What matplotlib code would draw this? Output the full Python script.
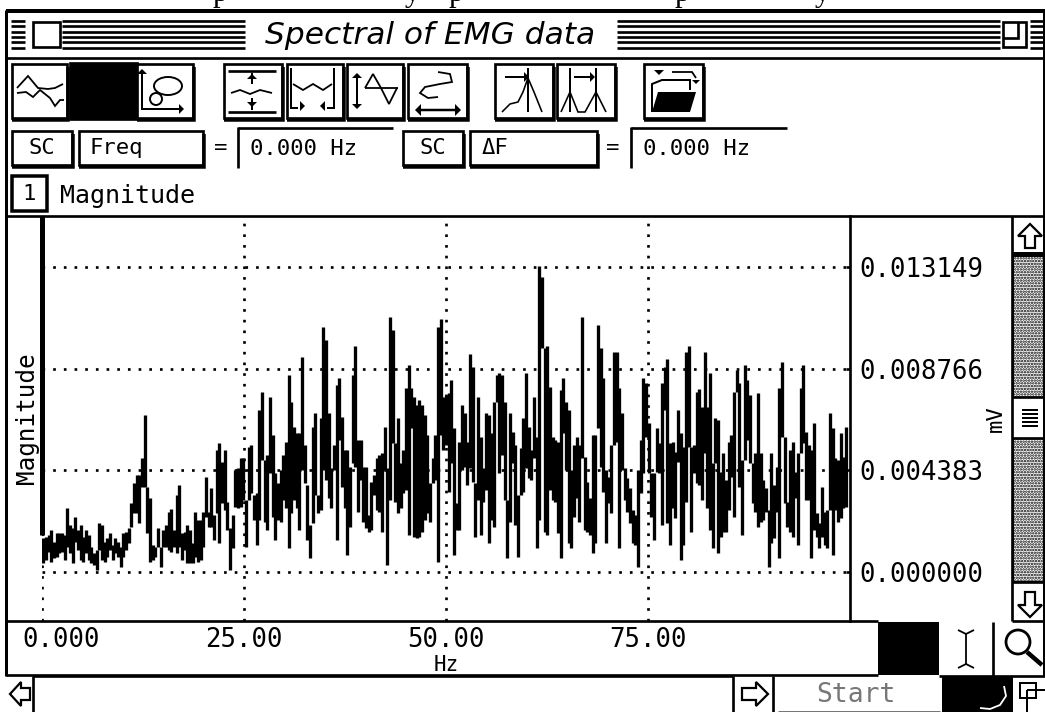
import matplotlib
matplotlib.use("Agg")
import matplotlib.pyplot as plt
import numpy as np
from matplotlib.patches import Rectangle, Polygon, Ellipse, Circle
from matplotlib.transforms import ScaledTranslation

# magnitude per screen column, in microvolts
band1_top = [1.45,1.52,1.59,1.81,1.31,1.67,1.67,1.67,1.59,2.74,2.03,1.88,2.39,1.81,2.03,1.52,1.81,1.59,1.09,0.80,
             0.95,2.13,2.03,1.31,1.45,1.67,1.16,1.45,1.31,1.09,1.67,1.74,1.88,2.96,3.82,4.18,4.18,4.90,6.77,3.68,
             3.18,1.16,1.09,1.88,1.09,1.81,2.03,2.60,2.70,1.81,3.32,3.75,1.67,1.74,2.03,1.81,1.24,2.60,2.24,2.24,
             2.60,4.11,2.60,3.61,2.46,5.26,5.55,4.76,5.26,3.03,1.88,2.46,4.40,4.47,4.90,4.90,3.10,5.40]
band1_bot = [0.37,0.52,0.88,0.45,0.59,0.66,0.80,0.88,0.52,1.09,0.80,0.37,1.31,0.95,0.52,0.45,0.80,0.52,0.37,0.30,
             0.09,0.95,0.52,0.45,0.66,0.95,0.52,0.80,0.66,0.23,0.66,0.95,1.24,1.95,2.53,2.53,2.10,3.68,3.68,1.67,
             0.45,0.52,0.66,1.09,0.23,1.09,1.09,0.95,0.88,1.09,0.80,1.09,0.52,0.95,0.37,0.37,0.37,0.66,0.45,0.52,
             1.09,2.39,1.95,1.95,1.38,2.53,1.24,2.96,2.67,1.81,0.09,1.02,2.82,2.74,2.82,3.10,1.09,3.10]

band2_top = [5.47,3.32,3.39,6.98,7.77,4.83,5.04,7.56,5.91,4.25,3.82,4.40,5.04,5.62,8.49,7.34,6.26,5.98,5.98,9.28,
             5.47,3.75,2.03,6.26,6.84,3.32,6.62,10.57,10.00,6.84,4.47,5.47,8.06,8.35,6.70,5.26,5.26,4.54,8.49,9.74,
             5.69,5.69,4.54,4.54,2.46,3.89,4.18,4.90,5.04,5.11,6.26,4.47,11.00,10.43,5.55,6.62,4.68,5.26,7.92,8.92,
             7.92,7.56,7.20,7.41,7.20,6.77,5.91,3.82,4.90,5.91,10.55,10.90,7.56,7.63,7.70,8.28]
band2_bot = [3.39,2.24,1.16,2.24,4.83,2.17,1.81,4.25,2.39,1.38,2.24,2.17,3.10,2.74,1.02,2.53,3.10,2.74,1.81,4.40,
             3.82,1.38,0.59,2.10,3.32,2.53,2.67,4.40,3.97,3.18,2.74,4.40,1.38,5.69,3.68,2.74,0.73,1.95,4.68,4.54,
             2.60,3.97,2.17,1.88,1.74,1.81,3.32,2.67,2.60,1.74,4.40,0.30,3.10,5.55,3.03,2.53,2.74,3.39,3.53,1.59,
             6.19,1.52,1.45,1.52,1.74,2.24,2.53,2.17,3.82,3.97,0.45,5.91,5.26,5.47,3.46,4.68]

band3_top = [6.19,2.96,5.62,7.20,6.87,5.62,9.40,8.85,3.82,7.56,5.83,4.47,6.84,6.77,5.98,7.34,8.49,8.56,8.49,7.34,
             3.10,6.87,6.05,5.47,3.32,5.33,6.62,8.56,6.26,5.26,7.56,5.83,13.19,12.73,9.64,9.74,7.99,5.83,5.69,5.62,
             7.84,8.35,7.34,6.98,4.40,5.47,5.83,5.47,11.00,4.97,3.89,3.18,5.91,5.91,10.65,9.64,8.35,4.40,4.11,5.47,
             9.50,9.50,7.92,6.84,4.47,4.04,3.61,2.67,2.46,4.40,5.69,8.35,8.13,6.41,4.25,4.25,6.19,5.55]
band3_bot = [0.73,1.81,1.81,4.40,4.54,3.75,4.47,3.89,1.52,3.10,1.59,3.03,3.53,1.24,2.24,1.95,7.34,4.25,5.04,3.10,
             0.59,2.17,4.68,2.03,0.66,3.32,3.46,4.47,4.04,3.97,4.90,1.02,2.24,9.64,1.74,1.59,3.53,3.10,3.03,1.67,
             0.59,5.98,4.40,1.24,1.02,2.39,3.18,2.17,4.90,1.81,1.74,1.59,0.80,1.24,6.19,4.54,3.46,1.24,2.96,2.53,
             5.47,5.62,1.02,4.40,3.10,2.60,2.10,1.24,1.16,0.23,3.39,4.25,5.83,4.25,2.39,1.38,4.32,4.25]

band4_top = [8.13,8.85,9.17,5.55,5.62,5.19,6.98,5.98,5.40,9.50,9.74,5.40,5.47,7.77,7.87,7.13,9.50,7.13,8.59,4.68,
             6.62,6.55,4.32,5.11,3.97,5.62,5.91,7.77,8.71,8.13,4.83,8.92,8.28,7.63,4.68,5.11,7.70,5.11,3.97,3.61,
             2.67,5.11,3.75,4.54,7.92,9.07,5.83,3.03,5.26,5.62,4.32,5.11,7.92,8.92,6.05,5.47,5.26,6.41,2.53,2.10,
             3.68,2.60,2.67,6.84,6.19,4.90,4.83,5.98,4.97,6.26]
band4_bot = [2.03,6.98,2.10,1.16,2.74,2.31,4.76,0.52,1.16,3.03,5.40,1.74,4.25,3.82,3.75,3.10,5.11,2.74,1.81,1.02,
             4.68,0.80,1.52,1.74,1.74,2.67,4.11,2.39,7.77,3.68,1.59,4.83,5.69,4.68,2.96,2.60,1.95,2.17,2.24,2.60,
             0.23,1.24,1.45,2.60,0.59,5.83,2.96,1.95,1.74,1.52,3.18,1.16,5.11,5.55,3.10,3.10,0.59,1.81,1.52,1.02,
             1.52,1.16,1.02,2.67,0.73,2.67,2.17,2.31,2.74,2.82]

y_ticks = [0.000000, 0.004383, 0.008766, 0.013149]
y_tick_labels = ['0.000000', '0.004383', '0.008766', '0.013149']
x_ticks = [0, 25, 50, 75]
x_tick_labels = ['0.000', '25.00', '50.00', '75.00']

mag_top = np.array(band1_top + band2_top + band3_top + band4_top) / 1000
mag_bot = np.array(band1_bot + band2_bot + band3_bot + band4_bot) / 1000
freq = 0.165 + 0.33 * np.arange(len(mag_top))

W, H = 1045, 712
MONO = 'DejaVu Sans Mono'
PX = 0.72  # points per pixel at dpi 100

fig = plt.figure(figsize=(W / 100, H / 100), dpi=100)
ui = fig.add_axes([0, 0, 1, 1])
ui.set_xlim(0, W)
ui.set_ylim(H, 0)
ui.axis('off')


def line(xs, ys, lw=2.67, color='k'):
    ui.plot(xs, ys, color=color, lw=lw * PX, solid_capstyle='butt', solid_joinstyle='miter')


def rect(x0, y0, x1, y1, fc='white', ec='k', lw=2.67, **kw):
    ui.add_patch(Rectangle((x0, y0), x1 - x0, y1 - y0, fc=fc, ec=ec, lw=lw * PX, **kw))


def button(x0, y0, x1, y1, fc='white'):
    rect(x0, y0, x1, y1, fc=fc)
    line([x0, x1 + 1, x1 + 1], [y1 + 1.5, y1 + 1.5, y0 + 3], lw=3.5)


def arrow_up(cx, cy, s=6):
    ui.add_patch(Polygon([(cx, cy - s), (cx + s, cy), (cx - s, cy)], fc='k', ec='k', lw=0))


def arrow_down(cx, cy, s=6):
    ui.add_patch(Polygon([(cx, cy + s), (cx + s, cy), (cx - s, cy)], fc='k', ec='k', lw=0))


def arrow_left(cx, cy, s=6):
    ui.add_patch(Polygon([(cx - s, cy), (cx, cy - s), (cx, cy + s)], fc='k', ec='k', lw=0))


def arrow_right(cx, cy, s=6):
    ui.add_patch(Polygon([(cx + s, cy), (cx, cy - s), (cx, cy + s)], fc='k', ec='k', lw=0))


def label(x, y, s, size=16, **kw):
    ui.text(x, y, s, family=MONO, fontsize=size, va='center', ha=kw.pop('ha', 'left'), **kw)


# cut-off caption above the window, only the descenders show
for gx, ch in [(213, 'p'), (405, 'y'), (449, 'p'), (675, 'p'), (815, 'y')]:
    ui.text(gx, 1.5, ch, family='Liberation Serif', fontsize=22, va='baseline', ha='left')

# window frame
line([6, W], [11, 11], lw=4)
line([6, 6], [10, 676], lw=3)
line([W - 1, W - 1], [10, 676], lw=2)
line([6, W], [58, 58], lw=2.67)
line([6, W], [216, 216], lw=2.67)
line([6, 878], [621, 621], lw=2.67)
line([6, 878], [675, 675], lw=2.67)

# title bar stripes
for sy in np.arange(21, 49, 5.33):
    line([11, 25], [sy, sy])
    line([62, 245], [sy, sy])
    line([617, 1000], [sy, sy])
    line([1030, 1044], [sy, sy])
rect(33, 22, 60, 47)
rect(1003, 22, 1026, 47)
line([1003, 1018, 1018], [38, 38, 22])
ui.text(430, 36, 'Spectral of EMG data', fontsize=22.5, style='oblique', ha='center', va='center')

# toolbar buttons
button(12, 64, 67, 118)
rect(70, 63, 137, 119, fc='k')
button(137, 64, 193, 118)
button(224, 64, 282, 118)
button(287, 64, 343, 118)
button(347, 64, 403, 118)
button(408, 64, 467, 118)
button(495, 64, 553, 118)
button(557, 64, 615, 118)
button(644, 64, 703, 118)

# trace icon
line([17, 28, 38, 48, 55, 63], [88, 76, 88, 89, 88, 84], lw=1.8)
line([17, 26, 33, 40, 50, 55, 60, 64], [93, 92, 97, 90, 98, 106, 100, 100], lw=1.8)
# xy icon
line([142, 142, 180], [72, 109, 109], lw=2)
arrow_up(142, 74, 5)
arrow_right(179, 109, 5)
ui.add_patch(Ellipse((168, 86), 28, 18, fc='none', ec='k', lw=1.4))
ui.add_patch(Circle((156, 99), 6, fc='none', ec='k', lw=1.4))
# y zoom icon
line([228, 276], [71, 71])
line([228, 276], [112, 112])
line([231, 240, 250, 260, 272], [93, 90, 94, 90, 93], lw=1.8)
line([252, 252], [73, 84], lw=2)
line([252, 252], [98, 110], lw=2)
arrow_up(252, 79, 5)
arrow_down(252, 102, 5)
# x zoom icon
line([291, 291, 298], [68, 108, 108], lw=2)
line([334, 334, 327], [68, 108, 108], lw=2)
line([293, 303, 313, 323, 332], [84, 90, 84, 90, 84], lw=1.8)
arrow_right(300, 106, 5)
arrow_left(325, 106, 5)
# amplitude icon
line([357, 357], [76, 106], lw=2)
arrow_up(357, 78, 5)
arrow_down(357, 104, 5)
line([365, 373, 381, 389, 397, 398], [88, 74, 88, 104, 88, 88], lw=1.8)
line([365, 397], [88, 88], lw=1.8)
# phase icon
line([438, 450, 452, 440, 425, 420, 428, 438], [72, 74, 82, 84, 87, 93, 98, 97], lw=1.8)
line([420, 456], [110, 110], lw=2.5)
arrow_left(421, 110, 6)
arrow_right(455, 110, 6)
# cursor icons
line([505, 525], [77, 77], lw=2)
arrow_right(524, 77, 5)
line([528, 528], [68, 112], lw=2)
line([502, 510, 518, 523, 528, 534, 542], [112, 104, 102, 92, 78, 92, 112], lw=1.6)
line([570, 570], [68, 112], lw=2)
line([596, 596], [68, 112], lw=2)
line([574, 590], [77, 77], lw=2)
arrow_right(590, 77, 5)
line([561, 570, 578, 585, 596, 606], [112, 92, 112, 112, 92, 112], lw=1.6)
# folder icon
arrow_down(659, 70, 5)
line([672, 692, 696], [72, 72, 78], lw=1.8)
arrow_down(696, 80, 4)
line([652, 652, 662, 690, 690], [112, 84, 80, 80, 90], lw=2)
ui.add_patch(Polygon([(652, 112), (658, 92), (696, 92), (690, 112)], fc='k', ec='k', lw=0))

# readout row
button(12, 131, 72, 165)
button(79, 131, 203, 165)
button(403, 131, 463, 165)
button(470, 131, 597, 165)
label(42, 148, 'SC', ha='center')
label(90, 148, 'Freq')
label(214, 148, '=')
line([238, 393], [128, 128])
line([238, 238], [127, 168])
label(250, 149, '0.000 Hz')
label(433, 148, 'SC', ha='center')
label(482, 148, 'ΔF')
label(606, 148, '=')
line([631, 787], [128, 128])
line([631, 631], [127, 168])
label(643, 149, '0.000 Hz')

# channel row
rect(12, 176, 47, 211, lw=3.5)
label(29.5, 194, '1', ha='center')
label(60, 196, 'Magnitude', size=18)

# scroll bar
line([1012, 1012], [216, 621])
plt.rcParams['hatch.linewidth'] = 1.2
rect(1013, 256, W - 1, 397, hatch='......', lw=1)
rect(1013, 438, W - 1, 581, hatch='......', lw=1)
line([1012, W], [254, 254], lw=4)
line([1012, W], [397, 397])
line([1012, W], [438, 438])
line([1012, W], [582, 582])
line([1012, W], [621, 621])
for ty in [410, 414, 418, 422, 426]:
    line([1022, 1038], [ty, ty], lw=2)
ui.add_patch(Polygon([(1030, 224), (1042, 236), (1035, 236), (1035, 248), (1025, 248), (1025, 236), (1018, 236)],
                     fc='white', ec='k', lw=1.6))
ui.add_patch(Polygon([(1030, 617), (1042, 605), (1035, 605), (1035, 592), (1025, 592), (1025, 605), (1018, 605)],
                     fc='white', ec='k', lw=1.6))

# lower right tools
rect(878, 622, 939, 675, fc='k', lw=0)
line([993, 993], [622, 676])
line([958, 966, 974], [630, 634, 630], lw=1.8)
line([966, 966], [634, 664], lw=1.8)
line([958, 966, 974], [668, 664, 668], lw=1.8)
ui.add_patch(Circle((1018, 642), 12, fc='none', ec='k', lw=2))
line([1027, 1042], [652, 665], lw=4.5)
line([939, W], [676, 676])

# bottom row
line([33, 33], [676, H])
line([733, 733], [676, H])
line([773, 773], [676, H])
line([33, 733], [676, 676])
ui.add_patch(Polygon([(10, 694), (21, 682), (21, 688), (30, 688), (30, 700), (21, 700), (21, 706)],
                     fc='white', ec='k', lw=1.6))
ui.add_patch(Polygon([(768, 694), (756, 682), (756, 688), (742, 688), (742, 700), (756, 700), (756, 706)],
                     fc='white', ec='k', lw=1.6))
label(856, 695, 'Start', size=19, ha='center', color='#777777')
line([778, 940], [711, 711], lw=1, color='#777777')
rect(942, 676, 1013, H, fc='k', lw=0)
line([1004, 1006, 1000, 990, 980], [686, 696, 705, 709, 708], lw=1.8, color='white')
rect(1020, 683, 1036, 698, fc='none', lw=2)
rect(1027, 690, W + 3, H + 3, fc='none', lw=2)

# spectrum panel
ax = fig.add_axes([42 / W, 1 - 621 / H, (850 - 42) / W, (621 - 216) / H])
ax.patch.set_visible(False)
ax.set_xlim(0, 100)
ax.set_ylim(-2.11e-3, 15.34e-3)
ax.vlines(freq, mag_bot, mag_top, colors='k', linewidth=3.3 * PX, capstyle='butt')

ax.set_xticks(x_ticks)
ax.set_xticklabels(x_tick_labels, family=MONO, fontsize=18.5)
ax.set_yticks(y_ticks)
ax.set_yticklabels(y_tick_labels, family=MONO, fontsize=18.5)
ax.yaxis.tick_right()
ax.tick_params(axis='y', length=3, width=1.9, direction='in', pad=7)
ax.tick_params(axis='x', length=0, pad=4)
ax.xaxis.get_majorticklabels()[0].set_transform(
    ax.xaxis.get_majorticklabels()[0].get_transform() + ScaledTranslation(0.19, 0, fig.dpi_scale_trans))

ax.set_axisbelow(True)
ax.grid(True, color='k', linewidth=2.67 * PX, linestyle=(0, (1, 3)))

ax.set_xlabel('Hz', family=MONO, fontsize=15, labelpad=2)
ax.yaxis.set_label_position('left')
ax.set_ylabel('Magnitude', family=MONO, fontsize=17.5, labelpad=2)
ax.text(1.181, 0.5, 'mV', transform=ax.transAxes, family=MONO, fontsize=16, rotation=90, ha='center', va='center')

for side in ['top', 'bottom', 'left']:
    ax.spines[side].set_visible(False)
ax.spines['right'].set_linewidth(2.67 * PX)
# heavy left axis stops just above the zero line
ax.plot([0, 0], [1.6e-3, 15.34e-3], color='k', lw=5 * PX, solid_capstyle='butt', clip_on=False)

fig.savefig('out.png', dpi=100)
